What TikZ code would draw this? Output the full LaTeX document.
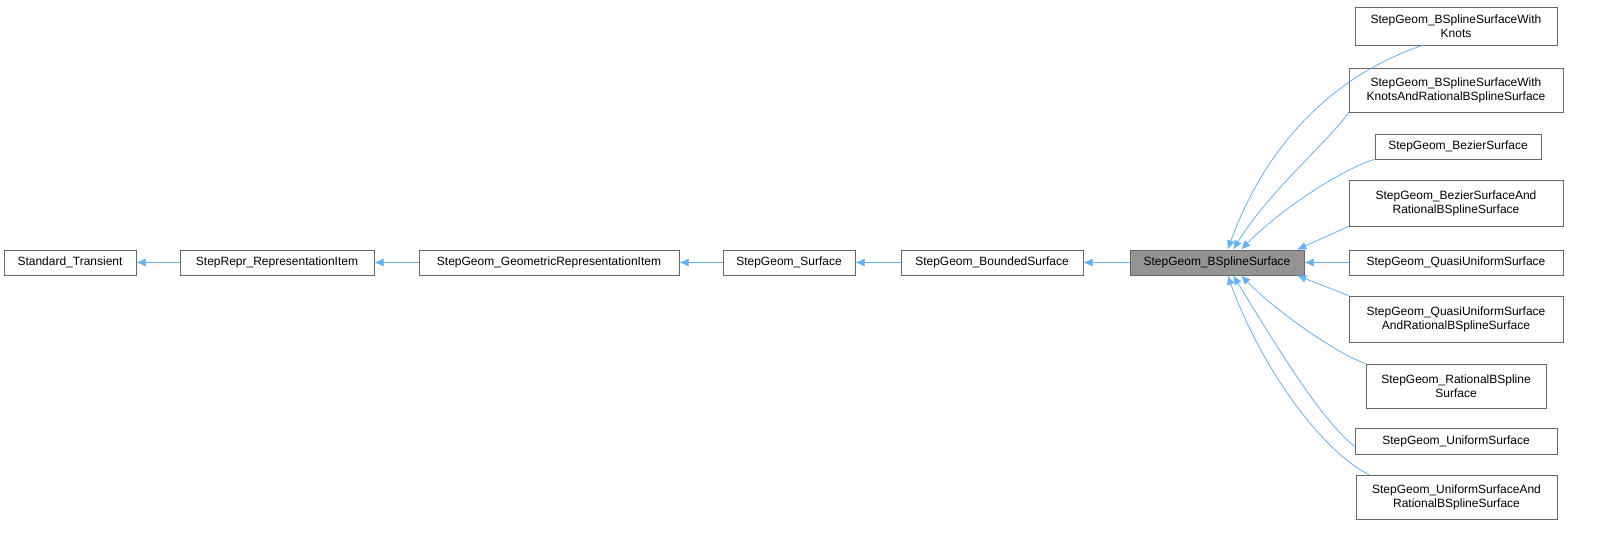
\documentclass[tikz,border=0pt]{standalone}
\usepackage{fontspec}
\setmainfont{Liberation Sans}
\usetikzlibrary{arrows.meta}
\begin{document}
\begin{tikzpicture}[x=0.75pt,y=-0.75pt,
  box/.style={draw=black!60,fill=white,inner sep=0pt,align=center,font=\fontsize{9}{10.5}\selectfont,line width=0.5pt},
  arr/.style={draw={rgb,255:red,99;green,177;blue,246},line width=0.6pt,{Latex[length=7pt,width=6pt]}-}]
\useasboundingbox (0,0) rectangle (1613,539);
\def\bx(#1,#2,#3,#4,#5,#6){\node[box,minimum width=(#4-#2)*0.75pt,minimum height=(#5-#3)*0.75pt] (#1) at ({(#2+#4)/2},{(#3+#5)/2}) {#6};}
\bx(st,4,250,136,275,Standard\_Transient)
\bx(ri,180,250,374,275,StepRepr\_RepresentationItem)
\bx(gr,419,250,679,275,StepGeom\_GeometricRepresentationItem)
\bx(su,723,250,855,275,StepGeom\_Surface)
\bx(bo,901,250,1083,275,StepGeom\_BoundedSurface)
\node[box,fill=black!42,minimum width=174*0.75pt,minimum height=25*0.75pt] (bs) at (1217,262.5) {StepGeom\_BSplineSurface};
\bx(c1,1355,7,1557,45,StepGeom\_BSplineSurfaceWith\\Knots)
\bx(c2,1349,68,1563,112,StepGeom\_BSplineSurfaceWith\\KnotsAndRationalBSplineSurface)
\bx(c3,1375,134,1541,159,StepGeom\_BezierSurface)
\bx(c4,1349,180,1563,226,StepGeom\_BezierSurfaceAnd\\RationalBSplineSurface)
\bx(c5,1349,250,1563,275,StepGeom\_QuasiUniformSurface)
\bx(c6,1349,296,1563,342,StepGeom\_QuasiUniformSurface\\AndRationalBSplineSurface)
\bx(c7,1366,364,1546,408,StepGeom\_RationalBSpline\\Surface)
\bx(c8,1355,428,1557,454,StepGeom\_UniformSurface)
\bx(c9,1356,475,1557,519,StepGeom\_UniformSurfaceAnd\\RationalBSplineSurface)
\draw[arr] (st) -- (ri);
\draw[arr] (ri) -- (gr);
\draw[arr] (gr) -- (su);
\draw[arr] (su) -- (bo);
\draw[arr] (bo) -- (bs);
\draw[arr] (bs) -- (c5);
\coordinate (t1) at (1225,250);
\draw[arr] ([xshift=8]bs.north) .. controls (1260,160) and (1320,80) .. ([xshift=-25]c1.south);
\draw[arr] ([xshift=12]bs.north) .. controls (1270,190) and (1330,140) .. (c2.south west);
\draw[arr] ([xshift=18]bs.north) .. controls (1280,210) and (1340,170) .. (c3.south west);
\draw[arr] ([xshift=60]bs.north) -- (c4.south west);
\draw[arr] ([xshift=60]bs.south) -- (c6.north west);
\draw[arr] ([xshift=18]bs.south) .. controls (1280,315) and (1340,355) .. (c7.north west);
\draw[arr] ([xshift=12]bs.south) .. controls (1270,335) and (1320,420) .. ([yshift=-4]c8.west);
\draw[arr] ([xshift=8]bs.south) .. controls (1260,365) and (1320,450) .. ([xshift=10]c9.north west);
\end{tikzpicture}
\end{document}
